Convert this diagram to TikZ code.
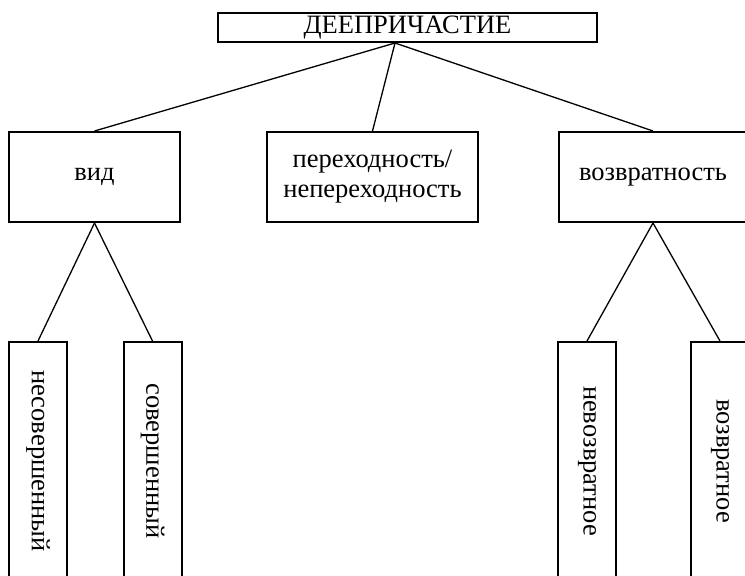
\documentclass[tikz,border=0pt]{standalone}
\usepackage{fontspec}
\setmainfont{Liberation Serif}
\def \LineW {2pt}
\tikzstyle{box}=[
  draw=black,
  line width=\LineW,
  inner sep=0pt,
  align=center,
  font=\fontsize{26.5}{30}\selectfont
]
\tikzstyle{vbox}=[
  box,
  minimum width=58,
  minimum height=238
]
\tikzstyle{link}=[line width=1.3pt]

\begin{document}
\begin{tikzpicture}[x=1pt, y=-1pt]
          \def \MidY {177}
          \def \LowY {461}

          \clip (0,0) rectangle (745,576);

          \node[box, minimum width=379, minimum height=29] (root) at (407.5,27.5) {ДЕЕПРИЧАСТИЕ};

          \node[box, minimum width=171, minimum height=90] (vid) at (94.5,\MidY) {вид};
          \node[box, minimum width=211, minimum height=90] (trans) at (372.5,\MidY) {переходность/\\непереходность};
          \node[box, minimum width=188, minimum height=90] (refl) at (653,\MidY) {возвратность};

          \foreach \name/\x/\txt in {imperf/38/несовершенный, perf/152.5/совершенный,
                                     nonrefl/587/невозвратное, reflx/720/возвратное}{
            \node[vbox] (\name) at (\x,\LowY) {\rotatebox{-90}{\txt}};
          }

          \foreach \c in {vid, trans, refl}{
            \draw[link] ([xshift=-12.5]root.south) -- (\c.north);
          }

          \draw[link] (vid.south) -- (imperf.north);
          \draw[link] (vid.south) -- (perf.north);
          \draw[link] (refl.south) -- (nonrefl.north);
          \draw[link] (refl.south) -- (reflx.north);
        \end{tikzpicture}
\end{document}
